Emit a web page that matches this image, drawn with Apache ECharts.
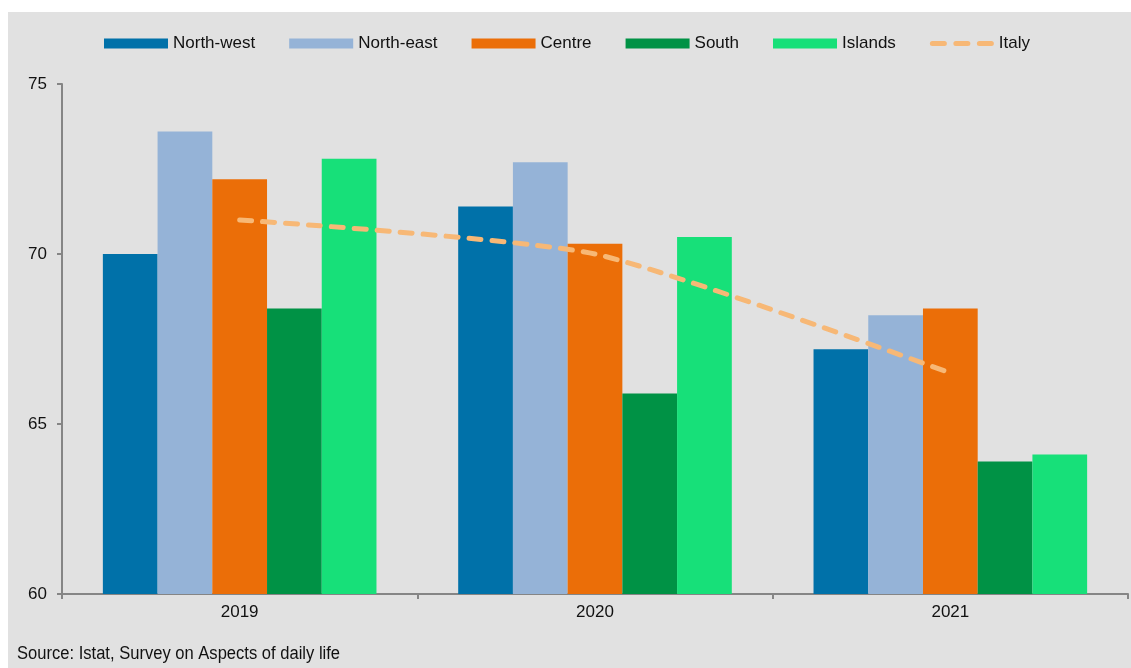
<!DOCTYPE html>
<html>
<head>
<meta charset="utf-8">
<script src="https://cdn.jsdelivr.net/npm/echarts@6/dist/echarts.min.js"></script>
<style>
  html, body { margin: 0; padding: 0; background: #ffffff; }
  #chart { width: 1131px; height: 668px; }
</style>
</head>
<body>
<div id="chart"></div>
<script>
// Years on the category axis
const years = ['2019', '2020', '2021'];

// Regional values by year
const northWest = [70.0, 71.4, 67.2];
const northEast = [73.6, 72.7, 68.2];
const centre    = [72.2, 70.3, 68.4];
const south     = [68.4, 65.9, 63.9];
const islands   = [72.8, 70.5, 64.1];

// National value
const italy = [71.0, 70.0, 66.5];

const FONT = "'Liberation Sans', Arial, sans-serif";
const ITALY_COLOR = '#f7b876';

// Legend key for the dashed line: three rounded dashes inside a 64x10 box
function dash(x) {
  return 'M' + (x + 2.5) + ',2.5h12a2.5,2.5 0 0 1 0,5h-12a2.5,2.5 0 0 1 0,-5z';
}
const DASH_ICON = 'path://M0,0M64,10' + dash(0) + dash(23.5) + dash(47);

const chart = echarts.init(document.getElementById('chart'), null, { renderer: 'canvas' });

function barSeries(name, data, color) {
  return {
    name: name,
    type: 'bar',
    data: data,
    barGap: '0%',
    barCategoryGap: '23%',
    itemStyle: { color: color },
    emphasis: { disabled: true }
  };
}

chart.setOption({
  backgroundColor: '#ffffff',
  animation: false,
  graphic: [
    {
      type: 'rect',
      z: -10,
      shape: { x: 8, y: 12, width: 1131 - 8, height: 668 - 12 },
      style: { fill: '#e1e1e1' },
      silent: true
    },
    {
      type: 'text',
      x: 17,
      y: 645,
      scaleX: 0.92,
      style: {
        text: 'Source: Istat, Survey on Aspects of daily life',
        font: "18px 'Liberation Sans Narrow', 'Arial Narrow', 'Liberation Sans', sans-serif",
        fill: '#111111'
      }
    }
  ],
  legend: {
    left: 104,
    top: 35,
    padding: 0,
    itemWidth: 64,
    itemHeight: 10,
    itemGap: 34,
    textStyle: { fontFamily: FONT, fontSize: 17, color: '#111111' },
    data: [
      { name: 'North-west', icon: 'rect' },
      { name: 'North-east', icon: 'rect' },
      { name: 'Centre', icon: 'rect' },
      { name: 'South', icon: 'rect' },
      { name: 'Islands', icon: 'rect' },
      { name: 'Italy', icon: DASH_ICON, itemStyle: { color: ITALY_COLOR, borderWidth: 0 } }
    ]
  },
  grid: { left: 62, right: 3, top: 84, bottom: 74, containLabel: false },
  xAxis: {
    type: 'category',
    data: years,
    boundaryGap: true,
    axisLine: { show: true, lineStyle: { color: '#858585', width: 2 } },
    axisTick: { show: true, length: 5, lineStyle: { color: '#858585', width: 2 } },
    axisLabel: { fontFamily: FONT, fontSize: 17, color: '#111111', margin: 10 },
    splitLine: { show: false }
  },
  yAxis: {
    type: 'value',
    min: 60,
    max: 75,
    interval: 5,
    axisLine: { show: true, lineStyle: { color: '#858585', width: 2 } },
    axisTick: { show: true, length: 5, lineStyle: { color: '#858585', width: 2 } },
    axisLabel: { fontFamily: FONT, fontSize: 17, color: '#111111', margin: 15 },
    splitLine: { show: false }
  },
  series: [
    barSeries('North-west', northWest, '#0071a9'),
    barSeries('North-east', northEast, '#95b3d7'),
    barSeries('Centre', centre, '#eb6e08'),
    barSeries('South', south, '#009245'),
    barSeries('Islands', islands, '#17e079'),
    {
      name: 'Italy',
      type: 'line',
      data: italy,
      smooth: 0.2,
      symbol: 'none',
      z: 5,
      lineStyle: {
        color: ITALY_COLOR,
        width: 5,
        type: [12, 11],
        cap: 'round'
      },
      itemStyle: { color: ITALY_COLOR },
      emphasis: { disabled: true }
    }
  ]
});
</script>
</body>
</html>
